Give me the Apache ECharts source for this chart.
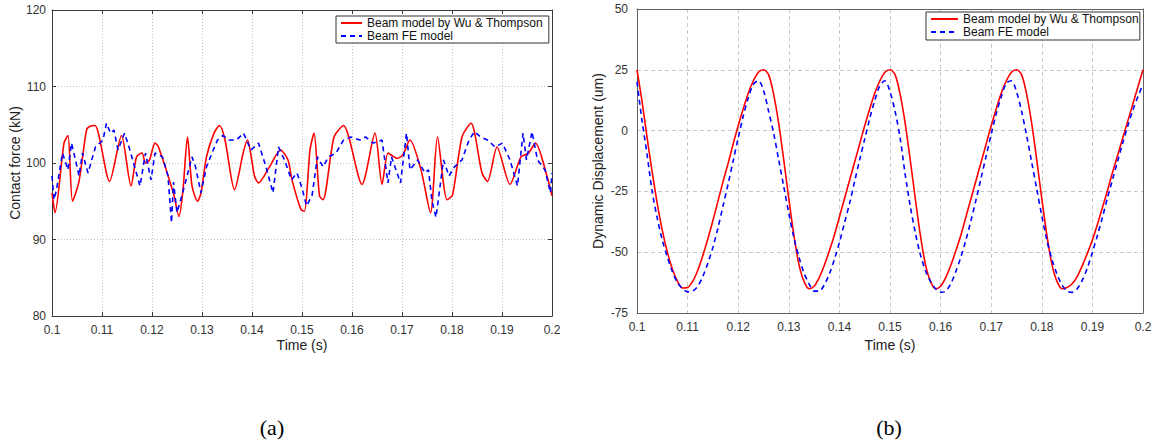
<!DOCTYPE html>
<html>
<head>
<meta charset="utf-8">
<script src="https://cdn.jsdelivr.net/npm/echarts@6/dist/echarts.min.js"></script>
<style>
  html, body { margin: 0; padding: 0; background: #fff; }
  #main { width: 1158px; height: 445px; }
</style>
</head>
<body>
<div id="main"></div>
<script>
// (a) contact force, [time s, force kN]
const forceWuThompson = [
  [0.1,96.1],[0.1006,93.5],[0.1024,102.6],[0.1032,103.6],[0.1041,95],[0.1054,97.6],[0.1069,104.3],[0.1076,104.8],
  [0.1086,104.9],[0.1115,97.6],[0.1139,103.6],[0.1158,97],[0.1169,100.8],[0.118,101.3],[0.1187,100],[0.1195,100.4],
  [0.1206,102.6],[0.1213,102.1],[0.1243,96],[0.1254,93],[0.1262,96.5],[0.1271,103.4],[0.128,97],[0.1291,95],
  [0.1298,96.1],[0.1309,100.8],[0.1324,103.9],[0.1335,104.9],[0.1346,103],[0.1365,96.5],[0.1383,101.5],[0.1391,103],
  [0.1405,98.3],[0.1413,97.4],[0.1435,99.5],[0.1457,101.7],[0.1472,100.4],[0.148,97.8],[0.1498,93.9],[0.1505,93.7],
  [0.1516,101.7],[0.1524,103.9],[0.1535,95.7],[0.1542,95.2],[0.1564,103.4],[0.1583,104.9],[0.162,97.2],[0.1646,103.9],
  [0.166,97.2],[0.1672,101.3],[0.1682,100.9],[0.169,100.6],[0.1701,101],[0.1716,103],[0.1738,99.1],[0.1757,93.5],
  [0.1771,103.4],[0.179,95.2],[0.1801,95.8],[0.182,103.4],[0.1838,105.2],[0.186,98.7],[0.1871,97.6],[0.189,102.1],
  [0.1916,97.2],[0.1938,100.8],[0.1953,101.3],[0.1967,102.6],[0.199,98.3],[0.2,95.7]
];
const forceFE = [
  [0.1,98.3],[0.1004,95.2],[0.1009,96.5],[0.1021,101.3],[0.1032,99.1],[0.1039,102.6],[0.1047,100.4],[0.1054,98.3],
  [0.1061,101.3],[0.1072,98.7],[0.1087,102.1],[0.1102,103],[0.1109,105.2],[0.1117,103.9],[0.1124,104.3],[0.1132,101.7],
  [0.1145,103.9],[0.1154,102.1],[0.1176,97],[0.1187,101.3],[0.1198,97.8],[0.1206,101.3],[0.1221,100.8],[0.1232,98.3],
  [0.1239,92.2],[0.1243,97.5],[0.125,93.5],[0.1265,97],[0.128,100.8],[0.1287,99.5],[0.1298,96.1],[0.1309,99.5],
  [0.132,101.3],[0.1331,103],[0.1342,103.6],[0.1354,103],[0.1369,103],[0.1383,103.9],[0.1398,101.7],[0.1413,102.6],
  [0.1428,99.5],[0.1442,96.1],[0.1453,102.1],[0.1465,100.4],[0.1479,97.8],[0.149,98.7],[0.1501,96.5],[0.1509,94.4],
  [0.152,95.7],[0.1531,100.8],[0.1542,99.5],[0.1553,100.8],[0.1568,101.3],[0.1583,103],[0.1598,103.4],[0.1616,103],
  [0.1627,103.4],[0.1642,102.6],[0.166,103],[0.1672,97.4],[0.1679,100.8],[0.1697,97.4],[0.1709,103.9],[0.1716,99.1],
  [0.1731,100.4],[0.1746,98.7],[0.1753,99.1],[0.176,95],[0.1768,92.9],[0.1783,100.4],[0.1794,98.3],[0.1805,99.5],
  [0.182,100.4],[0.1834,103],[0.1845,104.1],[0.1857,103.4],[0.1871,103],[0.1886,102.1],[0.1901,102.6],[0.1916,100.4],
  [0.1931,97],[0.1942,103.9],[0.1949,100.4],[0.196,104.1],[0.1971,100.4],[0.1986,99.1],[0.1997,96.1],[0.2,98.7]
];

// (b) dynamic displacement (um), sampled every 1 ms from 0.100 s to 0.200 s
const dispTimes = Array.from({ length: 101 }, (_, i) => +(0.1 + i * 0.001).toFixed(3));
const dispWuThompson = [
  25, 12, -3, -17, -30, -41, -50, -57, -62, -64.7, -64.5, -62, -57.5, -51.5, -44.5, -37, -29, -21, -13.5, -5.5, 2, 9, 15.5, 20.5, 24, 25,
  23, 15, 3, -12, -28, -43, -55, -62, -65, -64, -60.5, -55.5, -49.5, -43, -35.5, -28, -20.5, -13, -5.5, 2, 9, 15.5, 20.5, 24, 25,
  23, 15, 3, -12, -28, -43, -55, -62, -65, -64, -60.5, -55.5, -49.5, -43, -35.5, -28, -20.5, -13, -5.5, 2, 9, 15.5, 20.5, 24, 25,
  23, 15, 3, -12, -28, -43, -55, -62, -65, -64.5, -63, -60, -55.5, -50.5, -45, -38.5, -31.5, -24.5, -17, -10, -3, 4, 11, 18, 25
];
const dispFE = [
  20, 4, -10, -25, -36, -45, -52, -58, -62.5, -65, -66.3, -66, -64, -60, -54.5, -48, -40, -31, -22, -12.5, -3, 6, 13.5, 19, 20.5,
  16.5, 8, -1, -12, -23, -34, -44, -52, -58.5, -63, -66, -66, -63.5, -59, -53, -46, -38, -30, -21, -12, -3.5, 5, 12.5, 18.5, 20.5,
  16, 8, -3, -18, -31, -42, -51, -57.5, -62, -65, -66.5, -66, -63, -58, -52, -45, -37, -28.5, -19.5, -10.5, -1.5, 7, 14, 19.5, 20.5,
  16, 8, -2, -13, -24, -35, -45, -53, -59, -63.5, -66, -66.5, -65, -61.5, -56.5, -50, -43, -35.5, -27.5, -20, -12.5, -5, 2, 8.5, 14, 19
];

const timeTicks = { min: 0.1, max: 0.2, interval: 0.01 };
const forceTicks = { min: 80, max: 120, interval: 10 };
const dispTicks = { min: -75, max: 50, interval: 25 };

const seriesNames = ['Beam model by Wu & Thompson', 'Beam FE model'];

const FONT = "'Liberation Sans', Arial, Helvetica, sans-serif";
const RED = '#ff0000';
const BLUE = '#0000ff';

const chart = echarts.init(document.getElementById('main'), null, { renderer: 'svg' });

const timeLabel = v => String(+v.toFixed(2));

function mainX(grid, axisColor, gridLine, ticks) {
  return {
    type: 'value', gridIndex: grid, position: 'bottom',
    min: timeTicks.min, max: timeTicks.max, interval: timeTicks.interval,
    axisLine: { show: true, onZero: false, lineStyle: { color: axisColor, width: 1 } },
    axisTick: { show: ticks, inside: true, length: 4, lineStyle: { color: axisColor } },
    axisLabel: { formatter: timeLabel, fontSize: 12, fontFamily: FONT, color: '#333', margin: 8 },
    splitLine: { show: true, lineStyle: gridLine }
  };
}
function frameX(grid, axisColor, ticks) {
  return {
    type: 'value', gridIndex: grid, position: 'top',
    min: timeTicks.min, max: timeTicks.max, interval: timeTicks.interval,
    axisLine: { show: true, onZero: false, lineStyle: { color: axisColor, width: 1 } },
    axisTick: { show: ticks, inside: true, length: 4, lineStyle: { color: axisColor } },
    axisLabel: { show: false }, splitLine: { show: false }
  };
}
function mainY(grid, t, axisColor, gridLine, ticks, margin) {
  return {
    type: 'value', gridIndex: grid, position: 'left',
    min: t.min, max: t.max, interval: t.interval,
    axisLine: { show: true, onZero: false, lineStyle: { color: axisColor, width: 1 } },
    axisTick: { show: ticks, inside: true, length: 4, lineStyle: { color: axisColor } },
    axisLabel: { fontSize: 12, fontFamily: FONT, color: '#333', margin: margin },
    splitLine: { show: true, lineStyle: gridLine }
  };
}
function frameY(grid, t, axisColor, ticks) {
  return {
    type: 'value', gridIndex: grid, position: 'right',
    min: t.min, max: t.max, interval: t.interval,
    axisLine: { show: true, onZero: false, lineStyle: { color: axisColor, width: 1 } },
    axisTick: { show: ticks, inside: true, length: 4, lineStyle: { color: axisColor } },
    axisLabel: { show: false }, splitLine: { show: false }
  };
}

const dottedGrid = { color: '#c4c4c4', type: [1, 2], width: 1 };
const dashedGrid = { color: '#c8c8c8', type: [4, 3], width: 1 };

// legend keys show only the line sample; the marker is kept fully transparent
function legendBox(left, top, itemWidth, itemHeight, padding) {
  return {
    orient: 'vertical', left: left, top: top,
    data: seriesNames.slice(),
    itemWidth: itemWidth, itemHeight: itemHeight, itemGap: 1,
    padding: padding,
    itemStyle: { opacity: 0, color: 'rgba(0,0,0,0)', borderWidth: 0 },
    backgroundColor: '#fff', borderColor: '#333', borderWidth: 1, borderRadius: 0,
    textStyle: { fontSize: 12, fontFamily: FONT, color: '#111' },
    selectedMode: false
  };
}

function lineSeries(name, xi, yi, data, color, dashed, smooth) {
  return {
    name: name, type: 'line', xAxisIndex: xi, yAxisIndex: yi,
    data: data, showSymbol: false, symbol: 'none', smooth: smooth,
    lineStyle: { color: color, width: 1.6, type: dashed ? [5, 4] : 'solid' },
    itemStyle: { color: color }
  };
}

const option = {
  animation: false,
  backgroundColor: '#fff',
  grid: [
    { left: 52, top: 10, width: 500, height: 306, containLabel: false },
    { left: 637, top: 9, width: 506, height: 304, containLabel: false }
  ],
  xAxis: [
    mainX(0, '#3a3a3a', dottedGrid, true),
    frameX(0, '#3a3a3a', true),
    mainX(1, '#606060', dashedGrid, false),
    frameX(1, '#606060', false)
  ],
  yAxis: [
    mainY(0, forceTicks, '#3a3a3a', dottedGrid, true, 6),
    frameY(0, forceTicks, '#3a3a3a', true),
    mainY(1, dispTicks, '#606060', dashedGrid, false, 9),
    frameY(1, dispTicks, '#606060', false)
  ],
  legend: [
    legendBox(336, 16, 21, 14, [1, 6, 1, 4]),
    legendBox(926, 12, 27, 13, [1, 1, 2, 4])
  ],
  series: [
    lineSeries(seriesNames[0], 0, 0, forceWuThompson, RED, false, 0.25),
    lineSeries(seriesNames[1], 0, 0, forceFE, BLUE, true, false),
    lineSeries(seriesNames[0], 2, 2, dispTimes.map((t, i) => [t, dispWuThompson[i]]), RED, false, 0.3),
    lineSeries(seriesNames[1], 2, 2, dispTimes.map((t, i) => [t, dispFE[i]]), BLUE, true, 0.3)
  ],
  graphic: [
    { type: 'text', x: 15, y: 163, rotation: Math.PI / 2,
      style: { text: 'Contact force (kN)', font: '14px ' + FONT, fill: '#222', align: 'center', verticalAlign: 'middle' } },
    { type: 'text', x: 302, y: 345,
      style: { text: 'Time (s)', font: '14px ' + FONT, fill: '#222', align: 'center', verticalAlign: 'middle' } },
    { type: 'text', x: 598, y: 161, rotation: Math.PI / 2,
      style: { text: 'Dynamic Displacement (um)', font: '14px ' + FONT, fill: '#222', align: 'center', verticalAlign: 'middle' } },
    { type: 'text', x: 890, y: 345,
      style: { text: 'Time (s)', font: '14px ' + FONT, fill: '#222', align: 'center', verticalAlign: 'middle' } },
    { type: 'text', x: 272, y: 427,
      style: { text: '(a)', font: '22px "Liberation Serif", "Times New Roman", serif', fill: '#000', align: 'center', verticalAlign: 'middle' } },
    { type: 'text', x: 889, y: 427,
      style: { text: '(b)', font: '22px "Liberation Serif", "Times New Roman", serif', fill: '#000', align: 'center', verticalAlign: 'middle' } }
  ]
};

chart.setOption(option);
</script>
</body>
</html>
